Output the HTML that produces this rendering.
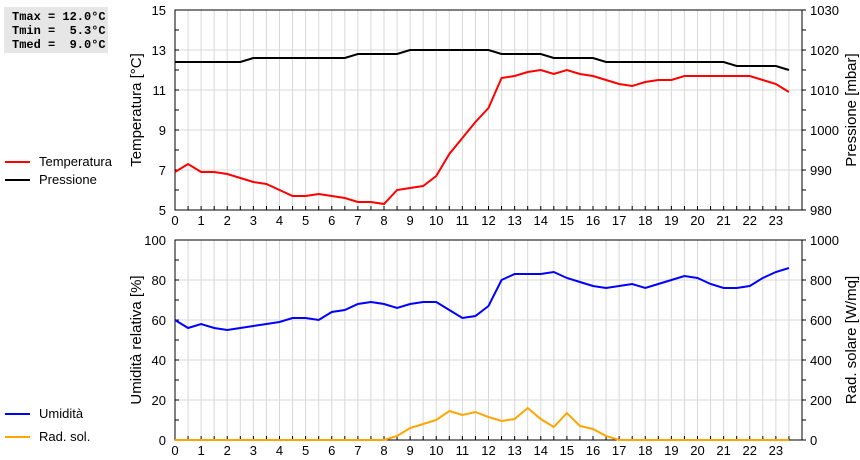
<!DOCTYPE html>
<html><head><meta charset="utf-8"><style>
body{margin:0;background:#fff;width:860px;height:460px;overflow:hidden;font-family:"Liberation Sans",sans-serif}
#info{position:absolute;left:4px;top:7px;width:104px;height:46px;background:#e6e6e6;font:bold 12px "Liberation Mono",monospace;white-space:pre;line-height:14px;padding:3px 0 0 8px;box-sizing:border-box}
</style></head><body>
<div id="info">Tmax = 12.0°C
Tmin =  5.3°C
Tmed =  9.0°C</div>
<svg id="c" width="860" height="460" style="position:absolute;left:0;top:0"></svg>
<script>
const hours=[0,0.5,1,1.5,2,2.5,3,3.5,4,4.5,5,5.5,6,6.5,7,7.5,8,8.5,9,9.5,10,10.5,11,11.5,12,12.5,13,13.5,14,14.5,15,15.5,16,16.5,17,17.5,18,18.5,19,19.5,20,20.5,21,21.5,22,22.5,23,23.5];
const temperature=[6.9,7.3,6.9,6.9,6.8,6.6,6.4,6.3,6.0,5.7,5.7,5.8,5.7,5.6,5.4,5.4,5.3,6.0,6.1,6.2,6.7,7.8,8.6,9.4,10.1,11.6,11.7,11.9,12.0,11.8,12.0,11.8,11.7,11.5,11.3,11.2,11.4,11.5,11.5,11.7,11.7,11.7,11.7,11.7,11.7,11.5,11.3,10.9];
const pressure=[1017,1017,1017,1017,1017,1017,1018,1018,1018,1018,1018,1018,1018,1018,1019,1019,1019,1019,1020,1020,1020,1020,1020,1020,1020,1019,1019,1019,1019,1018,1018,1018,1018,1017,1017,1017,1017,1017,1017,1017,1017,1017,1017,1016,1016,1016,1016,1015];
const humidity=[60,56,58,56,55,56,57,58,59,61,61,60,64,65,68,69,68,66,68,69,69,65,61,62,67,80,83,83,83,84,81,79,77,76,77,78,76,78,80,82,81,78,76,76,77,81,84,86];
const radiation=[0,0,0,0,0,0,0,0,0,0,0,0,0,0,0,0,0,20,60,80,100,145,125,140,115,95,105,160,105,65,135,70,55,20,0,0,0,0,0,0,0,0,0,0,0,0,0,0];
const tTicks=[5,7,9,11,13,15], pTicks=[980,990,1000,1010,1020,1030];
const hTicks=[0,20,40,60,80,100], rTicks=[0,200,400,600,800,1000];
const xTicks=[0,1,2,3,4,5,6,7,8,9,10,11,12,13,14,15,16,17,18,19,20,21,22,23];

const NS="http://www.w3.org/2000/svg", svg=document.getElementById('c');
const X0=175,X1=802;
const xs=h=>X0+(X1-X0)*h/24;
function mk(tag,a,parent){const e=document.createElementNS(NS,tag);for(const k in a)e.setAttribute(k,a[k]);(parent||svg).appendChild(e);return e;}
function scale(d0,d1,y0,y1){return v=>y0+(v-d0)*(y1-y0)/(d1-d0);}

function panel(top,bot,lTicks,rTicksA,lMin,lMax,rMin,rMax,lTitle,rTitle,name){
  const g=mk('g',{});
  
  
  const yl=scale(lMin,lMax,bot,top);
  for(let h=0.5;h<24;h+=0.5){const l=mk('line',{x1:xs(h),x2:xs(h),y1:top,y2:bot,stroke:'#d8d8d8'},g);}
  lTicks.forEach(v=>{const l=mk('line',{x1:X0,x2:X1,y1:yl(v),y2:yl(v),stroke:'#d8d8d8'},g);});
  // minor ticks
  const step=(lTicks[1]-lTicks[0])/2;
  for(let v=lMin;v<=lMax;v+=step){const y=yl(v);mk('line',{x1:X0,x2:X0+4,y1:y,y2:y,stroke:'#000'},g);mk('line',{x1:X1,x2:X1+4,y1:y,y2:y,stroke:'#000'},g);}
  for(let h=0;h<24;h+=0.5){mk('line',{x1:xs(h),x2:xs(h),y1:bot,y2:bot-4,stroke:'#000'},g);}
  const r=mk('rect',{x:X0,y:top,width:X1-X0,height:bot-top,fill:'none',stroke:'#000'},g);
  
  lTicks.forEach(v=>{const t=mk('text',{x:166,y:yl(v)+5,'text-anchor':'end','font-size':13},g);t.textContent=v;});
  const yr=scale(rMin,rMax,bot,top);
  rTicksA.forEach(v=>{const t=mk('text',{x:810,y:yr(v)+5,'font-size':13},g);t.textContent=v;});
  xTicks.forEach(v=>{const t=mk('text',{x:xs(v),y:bot+15,'text-anchor':'middle','font-size':13},g);t.textContent=v;});
  const cy=(top+bot)/2;
  let t=mk('text',{x:0,y:0,transform:`translate(141,${cy}) rotate(-90)`,'text-anchor':'middle','font-size':15},g);t.textContent=lTitle;
  t=mk('text',{x:0,y:0,transform:`translate(856,${cy}) rotate(-90)`,'text-anchor':'middle','font-size':15},g);t.textContent=rTitle;
  return {yl,yr};
}
function series(vals,y,color,name){
  const p=mk('polyline',{points:vals.map((v,i)=>xs(hours[i])+','+y(v)).join(' '),fill:'none',stroke:color,'stroke-width':2});
  
}
function legend(y,color,label,name){
  const g=mk('g',{});
  mk('line',{x1:5,x2:30,y1:y,y2:y,stroke:color,'stroke-width':2},g);
  const t=mk('text',{x:39,y:y+4,'font-size':13},g);t.textContent=label;
}
const a=panel(10,210,tTicks,pTicks,5,15,980,1030,'Temperatura [°C]','Pressione [mbar]','top-panel');
series(pressure,a.yr,'#000','pressure-line');
series(temperature,a.yl,'#f00','temperature-line');
const b=panel(240,440,hTicks,rTicks,0,100,0,1000,'Umidità relativa [%]','Rad. solare [W/mq]','bottom-panel');
series(radiation,b.yr,'#ffa500','radiation-line');
series(humidity,b.yl,'#00f','humidity-line');
legend(162,'#f00','Temperatura','legend-temperatura');
legend(180,'#000','Pressione','legend-pressione');
legend(414,'#00f','Umidità','legend-umidita');
legend(437,'#ffa500','Rad. sol.','legend-rad-sol');
</script>
</body></html>
